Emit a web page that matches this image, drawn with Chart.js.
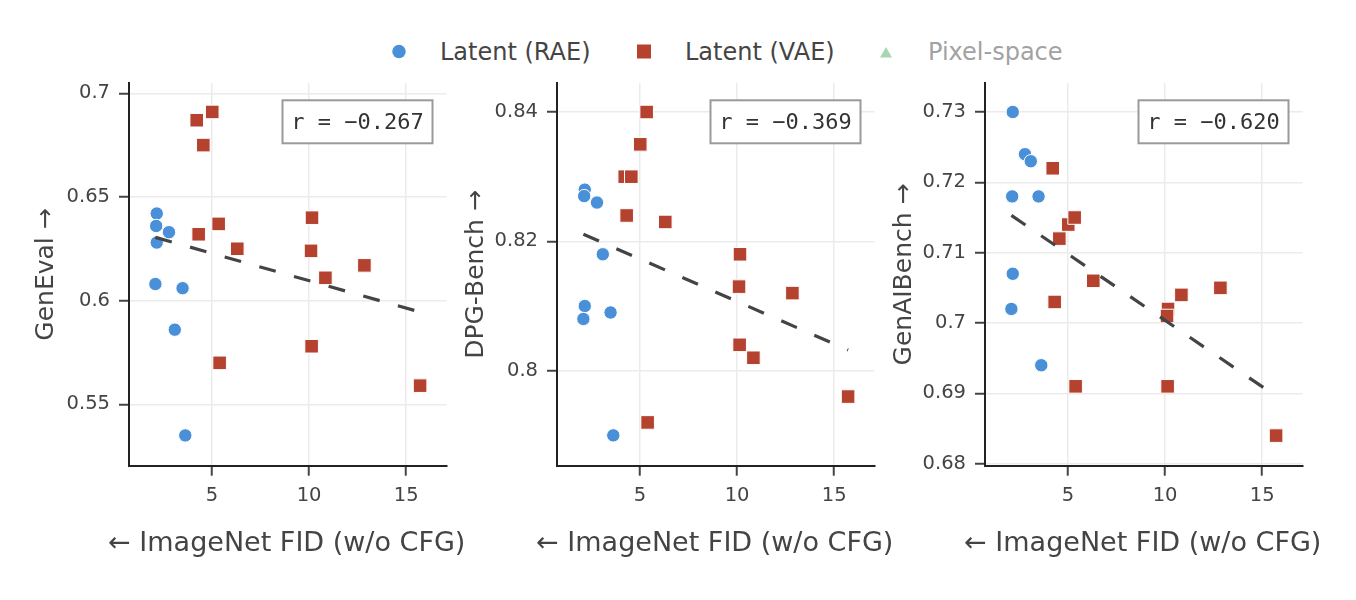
<!DOCTYPE html>
<html><head><meta charset="utf-8">
<script src="https://cdn.jsdelivr.net/npm/chart.js@4.4.1/dist/chart.umd.min.js"></script>
<style>
html,body{margin:0;padding:0;background:#fff;}
#wrap{position:relative;width:1356px;height:600px;overflow:hidden;background:#fff;}
canvas{position:absolute;top:0;}
#legend{position:absolute;left:0;top:0;}
</style></head><body>
<div id="wrap">
<svg id="legend" width="1356" height="90" xmlns="http://www.w3.org/2000/svg"></svg>
<canvas id="c0" width="490" height="600" style="left:0px"></canvas>
<canvas id="c1" width="490" height="600" style="left:428px"></canvas>
<canvas id="c2" width="490" height="600" style="left:856px"></canvas>
</div>
<script>
// ---- data ----
const seriesNames = ['Latent (RAE)', 'Latent (VAE)', 'Pixel-space'];
const fidRAE = [2.15, 2.12, 2.15, 2.08, 2.78, 3.08, 3.48, 3.62];
const fidVAE = [4.21, 5.01, 4.55, 4.31, 5.34, 5.39, 6.3, 10.15, 10.1, 10.13, 10.84, 12.85, 15.72];
const genevalRAE = [0.642, 0.636, 0.628, 0.608, 0.633, 0.586, 0.606, 0.535];
const genevalVAE = [0.687, 0.691, 0.675, 0.632, 0.637, 0.570, 0.625, 0.640, 0.624, 0.578, 0.611, 0.617, 0.559];
const dpgRAE = [0.828, 0.827, 0.810, 0.808, 0.826, 0.818, 0.809, 0.790];
const dpgVAE = [0.830, 0.835, 0.830, 0.824, 0.840, 0.792, 0.823, 0.818, 0.813, 0.804, 0.802, 0.812, 0.796];
const genaiRAE = [0.730, 0.718, 0.707, 0.702, 0.724, 0.723, 0.718, 0.694];
const genaiVAE = [0.722, 0.714, 0.712, 0.703, 0.715, 0.691, 0.706, 0.702, 0.701, 0.691, 0.704, 0.705, 0.684];
const trendX = [2.08, 15.72];
const genevalTrend = [0.6305, 0.5945];
const dpgTrend = [0.8211, 0.8032];
const genaiTrend = [0.7153, 0.6896];
const xTicks = [5, 10, 15];
const genevalTicks = [0.55, 0.6, 0.65, 0.7];
const dpgTicks = [0.8, 0.82, 0.84];
const genaiTicks = [0.68, 0.69, 0.7, 0.71, 0.72, 0.73];
const yTitles = ['GenEval \u2192', 'DPG-Bench \u2192', 'GenAIBench \u2192'];
const xTitle = '\u2190 ImageNet FID (w/o CFG)';
const rLabels = ['r = \u22120.267', 'r = \u22120.369', 'r = \u22120.620'];

// ---- styles ----
const BLUE = '#4a90d9', RED = '#b5412f', GREEN = '#a9d6b2';
const TXT = '#444';
const FONT = "'DejaVu Sans', Verdana, sans-serif";

// ---- legend (svg) ----
(function(){
  const svg = document.getElementById('legend');
  const ns = 'http://www.w3.org/2000/svg';
  function el(tag, attrs, text){ const e = document.createElementNS(ns, tag); for (const k in attrs) e.setAttribute(k, attrs[k]); if (text) e.textContent = text; svg.appendChild(e); return e; }
  el('circle', {cx: 399, cy: 51.5, r: 6.7, fill: BLUE});
  el('text', {x: 440, y: 60, fill: TXT, 'font-family': FONT, 'font-size': 24}, seriesNames[0]);
  el('rect', {x: 637, y: 44.5, width: 14, height: 14, fill: RED});
  el('text', {x: 685, y: 60, fill: TXT, 'font-family': FONT, 'font-size': 24}, seriesNames[1]);
  el('polygon', {points: '880,57.5 892,57.5 886,47', fill: GREEN});
  el('text', {x: 928, y: 60, fill: '#a2a2a2', 'font-family': FONT, 'font-size': 24}, seriesNames[2]);
})();

Chart.defaults.font.family = FONT;
Chart.defaults.color = TXT;

const rBoxPlugin = {
  id: 'rbox',
  afterDraw(chart, args, opts) {
    const {ctx, chartArea} = chart;
    const w = 150, h = 43;
    const x = chartArea.right - 14 - w, y = chartArea.top + 17;
    ctx.save();
    ctx.fillStyle = '#fff';
    ctx.fillRect(x, y, w, h);
    ctx.strokeStyle = '#9a9a9a';
    ctx.lineWidth = 2;
    ctx.strokeRect(x, y, w, h);
    ctx.fillStyle = '#333';
    ctx.font = "22px 'DejaVu Sans Mono', monospace";
    ctx.textAlign = 'center';
    ctx.textBaseline = 'middle';
    ctx.fillText(opts.text, x + w / 2, y + h / 2 + 1);
    // x-axis title (drawn without width squeezing)
    ctx.fillStyle = TXT;
    ctx.font = "27px " + FONT;
    ctx.fillText(opts.xTitle, (chartArea.left + chartArea.right) / 2 - 1, 544);
    ctx.restore();
  }
};

function pts(xs, ys){ return xs.map((x, i) => ({x: x, y: ys[i]})); }

function makeChart(id, rae, vae, trend, yTicks, yMin, yMax, yTitle, rText, titlePad) {
  return new Chart(document.getElementById(id), {
    type: 'scatter',
    data: {
      datasets: [
        {label: 'trend', data: pts(trendX, trend), showLine: true, borderColor: '#444', borderWidth: 3.2,
         borderDash: [17, 19], pointRadius: 0, pointHoverRadius: 0, order: 0, fill: false},
        {label: seriesNames[1], data: pts(fidVAE, vae), pointStyle: 'rect', pointRadius: 9.6,
         backgroundColor: RED, borderColor: '#fff', borderWidth: 1, order: 1},
        {label: seriesNames[0], data: pts(fidRAE, rae), pointStyle: 'circle', pointRadius: 6.7,
         backgroundColor: BLUE, borderColor: '#fff', borderWidth: 1, order: 2}
      ]
    },
    options: {
      responsive: false, animation: false, devicePixelRatio: 1,
      layout: {padding: {left: 0, right: 43.5, top: 83.3, bottom: 0}},
      plugins: {legend: {display: false}, tooltip: {enabled: false}, rbox: {text: rText, xTitle: xTitle}},
      scales: {
        x: {
          type: 'linear', min: 0.72, max: 17.08,
          afterBuildTicks: s => { s.ticks = xTicks.map(v => ({value: v})); },
          afterFit: s => { s.height = 134.3; },
          ticks: {padding: 8.5, font: {size: 19.5}, color: TXT, callback: v => String(v)},
          grid: {color: '#ebebeb', lineWidth: 1.5, tickLength: 10, tickColor: '#444', tickWidth: 2},
          border: {display: true, color: '#222', width: 2},
          title: {display: false}
        },
        y: {
          type: 'linear', min: yMin, max: yMax,
          afterBuildTicks: s => { s.ticks = yTicks.map(v => ({value: v})); },
          afterFit: s => { s.width = 129; },
          ticks: {padding: 9, font: {size: 19.5}, color: TXT, callback: v => String(v)},
          grid: {color: '#ebebeb', lineWidth: 1.5, tickLength: 10, tickColor: '#444', tickWidth: 2},
          border: {display: true, color: '#222', width: 2},
          title: {display: true, text: yTitle, font: {size: 25}, color: TXT, padding: {top: titlePad, bottom: 0}}
        }
      }
    },
    plugins: [rBoxPlugin]
  });
}

makeChart('c0', genevalRAE, genevalVAE, genevalTrend, genevalTicks, 0.5204, 0.7048, yTitles[0], rLabels[0], 31.3);
makeChart('c1', dpgRAE, dpgVAE, dpgTrend, dpgTicks, 0.78531, 0.84444, yTitles[1], rLabels[1], 33.4);
makeChart('c2', genaiRAE, genaiVAE, genaiTrend, genaiTicks, 0.67972, 0.73408, yTitles[2], rLabels[2], 33.7);
</script>
</body></html>
